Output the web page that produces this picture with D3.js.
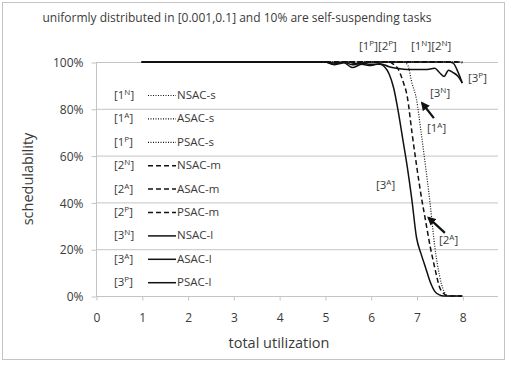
<!DOCTYPE html>
<html>
<head>
<meta charset="utf-8">
<script src="https://cdn.jsdelivr.net/npm/d3@7"></script>
<style>
  body { margin: 0; background: #fff; }
  text { font-family: "Open Sans", "Noto Sans", sans-serif; fill: #3a3a3a; }
  .grid line { stroke: #c4c4c4; }
</style>
</head>
<body>
<div id="chart"></div>
<script>
// values: [total utilization, schedulability %]
const flat100 = [[1, 100], [8, 100]];
const series1N = flat100;
const series2N = [[1, 100], [7.9, 100], [8, 99.6]];
const series1P = flat100;
const series2P = flat100;
const series1A = [[1, 100], [6.7, 100], [6.8, 99], [6.9, 91], [7.0, 84], [7.1, 70], [7.2, 55], [7.3, 39],
  [7.4, 21], [7.5, 9], [7.6, 2], [7.7, 0], [8, 0]];
const series2A = [[1, 100], [6.4, 100], [6.5, 99], [6.6, 97], [6.7, 92], [6.8, 85], [6.9, 70], [7.0, 56],
  [7.1, 43], [7.2, 32], [7.3, 21], [7.4, 12], [7.5, 4], [7.6, 1], [7.7, 0], [8, 0]];
const series3A = [[1, 100], [5, 100], [5.2, 99], [5.4, 100], [5.6, 98.8], [5.8, 99.5], [6.0, 99], [6.2, 99],
  [6.3, 98], [6.4, 95], [6.5, 89], [6.6, 79], [6.7, 67], [6.8, 55], [6.9, 41], [7.0, 25], [7.1, 18],
  [7.2, 12], [7.3, 6], [7.4, 2], [7.5, 0.5], [7.6, 0], [8, 0]];
const series3N = [[1, 100], [5, 100], [5.2, 98.8], [5.4, 99.8], [5.6, 97.6], [5.8, 99], [6.0, 98.5], [6.2, 99.3],
  [6.4, 98], [6.6, 97.2], [6.8, 96.8], [7.0, 96.8], [7.2, 96.8], [7.4, 97.3], [7.5, 95.5], [7.6, 93.8],
  [7.7, 96.5], [7.8, 95.5], [7.9, 94], [8, 91]];
const series3P = [[1, 100], [5, 100], [5.3, 99.3], [5.5, 100], [5.7, 99.2], [5.9, 100], [7.7, 100], [7.8, 99.5],
  [7.9, 96], [8, 91]];

const legendKeys = ["1N", "1A", "1P", "2N", "2A", "2P", "3N", "3A", "3P"];
const legendNames = ["NSAC-s", "ASAC-s", "PSAC-s", "NSAC-m", "ASAC-m", "PSAC-m", "NSAC-l", "ASAC-l", "PSAC-l"];
const xTicks = [0, 1, 2, 3, 4, 5, 6, 7, 8];
const yTicks = [0, 20, 40, 60, 80, 100];

const allSeries = [series1N, series1A, series1P, series2N, series2A, series2P, series3N, series3A, series3P];

const W = 510, H = 366;
const margin = {top: 62, right: 12, bottom: 70, left: 96};
const width = W - margin.left - margin.right;
const height = H - margin.top - margin.bottom;

const svg = d3.select("#chart").append("svg")
    .attr("width", W)
    .attr("height", H);

// outer frame
svg.append("rect")
    .attr("x", 2.5).attr("y", 2.5)
    .attr("width", 502).attr("height", 357)
    .attr("fill", "none")
    .attr("stroke", "#c4c4c4");

const g = svg.append("g")
    .attr("transform", `translate(${margin.left}, ${margin.top})`);

const x = d3.scaleLinear().domain([0, 8.78]).range([0, width]);
const y = d3.scaleLinear().domain([0, 100]).range([height, 0]);

// grid lines
g.append("g")
    .attr("class", "grid")
    .selectAll("line")
    .data(yTicks)
    .enter()
    .append("line")
        .attr("x1", 0).attr("x2", width)
        .attr("y1", d => y(d) + 0.5).attr("y2", d => y(d) + 0.5);

// y axis
const yAxis = g.append("g")
    .attr("transform", "translate(0.5, 0.5)")
    .call(d3.axisLeft(y).tickValues(yTicks).tickSize(5).tickPadding(8).tickFormat(d => d + "%"));
yAxis.selectAll("line, path").attr("stroke", "#c4c4c4");
yAxis.select(".domain").attr("d", `M0,0V${height}`);
yAxis.selectAll("text").style("font-size", "12px").attr("fill", "#3a3a3a").attr("dy", "0.35em");

// x axis
const xAxis = g.append("g")
    .attr("transform", `translate(0.5, ${height + 0.5})`)
    .call(d3.axisBottom(x).tickValues(xTicks).tickSize(4).tickPadding(13));
xAxis.selectAll("line, path").attr("stroke", "#c4c4c4");
xAxis.select(".domain").remove();
xAxis.selectAll("text").style("font-size", "12px").attr("fill", "#3a3a3a");

// lines
const styleOf = function(i) {
    const grp = Math.floor(i / 3);
    if (grp === 0) return {dash: "1,1.5", w: 1.2};
    if (grp === 1) return {dash: "5,3", w: 1.5};
    return {dash: null, w: 1.5};
};

const line = d3.line()
    .x(d => x(d[0]))
    .y(d => y(d[1]))
    .curve(d3.curveMonotoneX);

g.append("g")
    .selectAll("path")
    .data(allSeries)
    .enter()
    .append("path")
        .attr("fill", "none")
        .attr("stroke", "#111")
        .attr("stroke-width", (d, i) => styleOf(i).w)
        .attr("stroke-dasharray", (d, i) => styleOf(i).dash)
        .attr("d", line);

// superscripted label helper, e.g. "[1" + sup "N" + "]"
function bracketLabel(sel, keys) {
    keys.forEach(function(k, j) {
        sel.append("tspan").text("[" + k[0]);
        sel.append("tspan").attr("dy", -4).style("font-size", "8px").text(k[1]);
        sel.append("tspan").attr("dy", 4).text("]");
    });
}

// legend inside plot
const legend = g.append("g");
const rowY = d => 33 + d * 23.4;
legendKeys.forEach(function(k, i) {
    const row = legend.append("g").attr("transform", `translate(0, ${rowY(i)})`);
    const t = row.append("text")
        .attr("x", 18).attr("dy", "0.35em")
        .style("font-size", "11.5px");
    bracketLabel(t, [k]);
    const st = styleOf(i);
    row.append("line")
        .attr("x1", 52).attr("x2", 80)
        .attr("y1", 0.5).attr("y2", 0.5)
        .attr("stroke", "#111")
        .attr("stroke-width", st.w)
        .attr("stroke-dasharray", st.dash);
    row.append("text")
        .attr("x", 81).attr("dy", "0.35em")
        .style("font-size", "11.5px")
        .text(legendNames[i]);
});

// annotations
const notes = [
    {keys: ["1P", "2P"], x: 263, y: -16},
    {keys: ["1N", "2N"], x: 315, y: -16},
    {keys: ["3P"], x: 372, y: 16},
    {keys: ["3N"], x: 334, y: 31},
    {keys: ["1A"], x: 331, y: 66},
    {keys: ["3A"], x: 280, y: 123},
    {keys: ["2A"], x: 343, y: 178}
];
notes.forEach(function(n) {
    const t = g.append("text")
        .attr("x", n.x).attr("y", n.y).attr("dy", "0.35em")
        .style("font-size", "11.5px");
    bracketLabel(t, n.keys);
});

// arrows
svg.append("defs").append("marker")
    .attr("id", "arrow")
    .attr("viewBox", "0 0 10 10")
    .attr("refX", 8).attr("refY", 5)
    .attr("markerWidth", 4).attr("markerHeight", 4)
    .attr("orient", "auto")
  .append("path")
    .attr("d", "M0,0L10,5L0,10z")
    .attr("fill", "#111");

const arrows = [
    {x1: 7.38, y1: 76, x2: 7.12, y2: 82.5},
    {x1: 7.62, y1: 27, x2: 7.26, y2: 33.5}
];
g.append("g")
    .selectAll("line")
    .data(arrows)
    .enter()
    .append("line")
        .attr("x1", d => x(d.x1)).attr("y1", d => y(d.y1))
        .attr("x2", d => x(d.x2)).attr("y2", d => y(d.y2))
        .attr("stroke", "#111")
        .attr("stroke-width", 2.2)
        .attr("marker-end", "url(#arrow)");

// title and axis labels
svg.append("text")
    .attr("x", 237).attr("y", 22)
    .attr("text-anchor", "middle")
    .style("font-size", "12px")
    .text("uniformly distributed in [0.001,0.1] and 10% are self-suspending tasks");

svg.append("text")
    .attr("x", 279).attr("y", 348)
    .attr("text-anchor", "middle")
    .style("font-size", "14.5px")
    .text("total utilization");

svg.append("text")
    .attr("transform", `translate(33, ${margin.top + height / 2}) rotate(-90)`)
    .attr("text-anchor", "middle")
    .style("font-size", "14.5px")
    .text("schedulability");
</script>
</body>
</html>
